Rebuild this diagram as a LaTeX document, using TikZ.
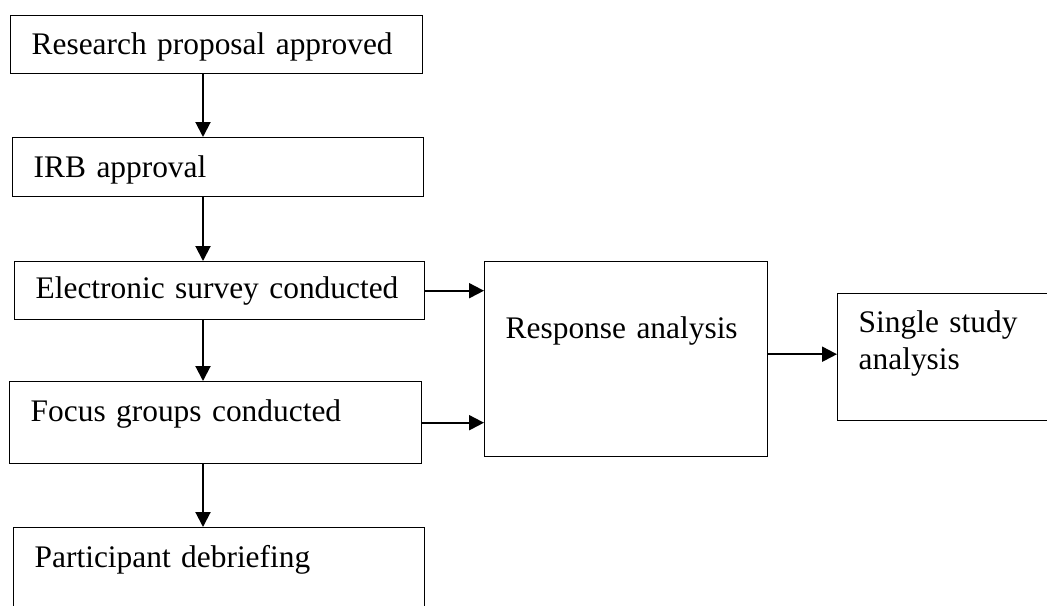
\documentclass[tikz,border=0pt]{standalone}
\usepackage{fontspec}
\setmainfont{Liberation Serif}
\usepackage{tikz}
\usetikzlibrary{arrows.meta}

\tikzset{
    stage/.style={draw, line width=0.7pt, anchor=north west,
        inner xsep=0pt, inner ysep=0pt,
        font=\fontsize{15.7}{18.5}\selectfont,
        execute at begin node={\leftskip=10.5pt\rightskip=0pt plus 1fil\hyphenpenalty=10000}},
    flow/.style={line width=1pt, -{Triangle[length=7.5pt, width=7.5pt]}}
}

\begin{document}
\begin{tikzpicture}[x=0.5pt, y=-0.5pt]
            \useasboundingbox (0,0) rectangle (1047,605);

            % Etapas (columna izquierda)
            \node[stage, text width=206pt, text height=19.5pt, text depth=9.5pt] (proposal) at (10,15) {Research proposal approved};
            \node[stage, text width=205.5pt, text height=20pt, text depth=9.5pt] (irb) at (12,137) {IRB approval};
            \node[stage, text width=205pt, text height=18.5pt, text depth=10.5pt] (survey) at (14,261) {Electronic survey conducted};
            \node[stage, text width=206pt, text height=20pt, text depth=21pt] (focus) at (9,381) {Focus groups conducted};
            \node[stage, text width=205.5pt, text height=20pt, text depth=29pt] (debrief) at (13,527) {Participant debriefing};

            % Analisis
            \node[stage, text width=141.5pt, text height=38.5pt, text depth=59pt] (response) at (484,261) {Response analysis};
            \node[stage, text width=116.5pt, text height=19.5pt, text depth=44pt] (single) at (837,293) {Single study\\analysis};

            % Flechas verticales
            \coordinate (spine) at (203,0);
            \foreach \a/\b in {proposal/irb, irb/survey, survey/focus, focus/debrief} {
                \draw[flow] (\a.south -| spine) -- (\b.north -| spine);
            }

            % Flechas hacia el analisis
            \foreach \a in {survey, focus} {
                \draw[flow] (\a.east) -- (\a.east -| response.west);
            }
            \draw[flow] ([yshift=2.5pt]response.east) -- ([yshift=2.5pt]response.east -| single.west);
        \end{tikzpicture}
\end{document}
